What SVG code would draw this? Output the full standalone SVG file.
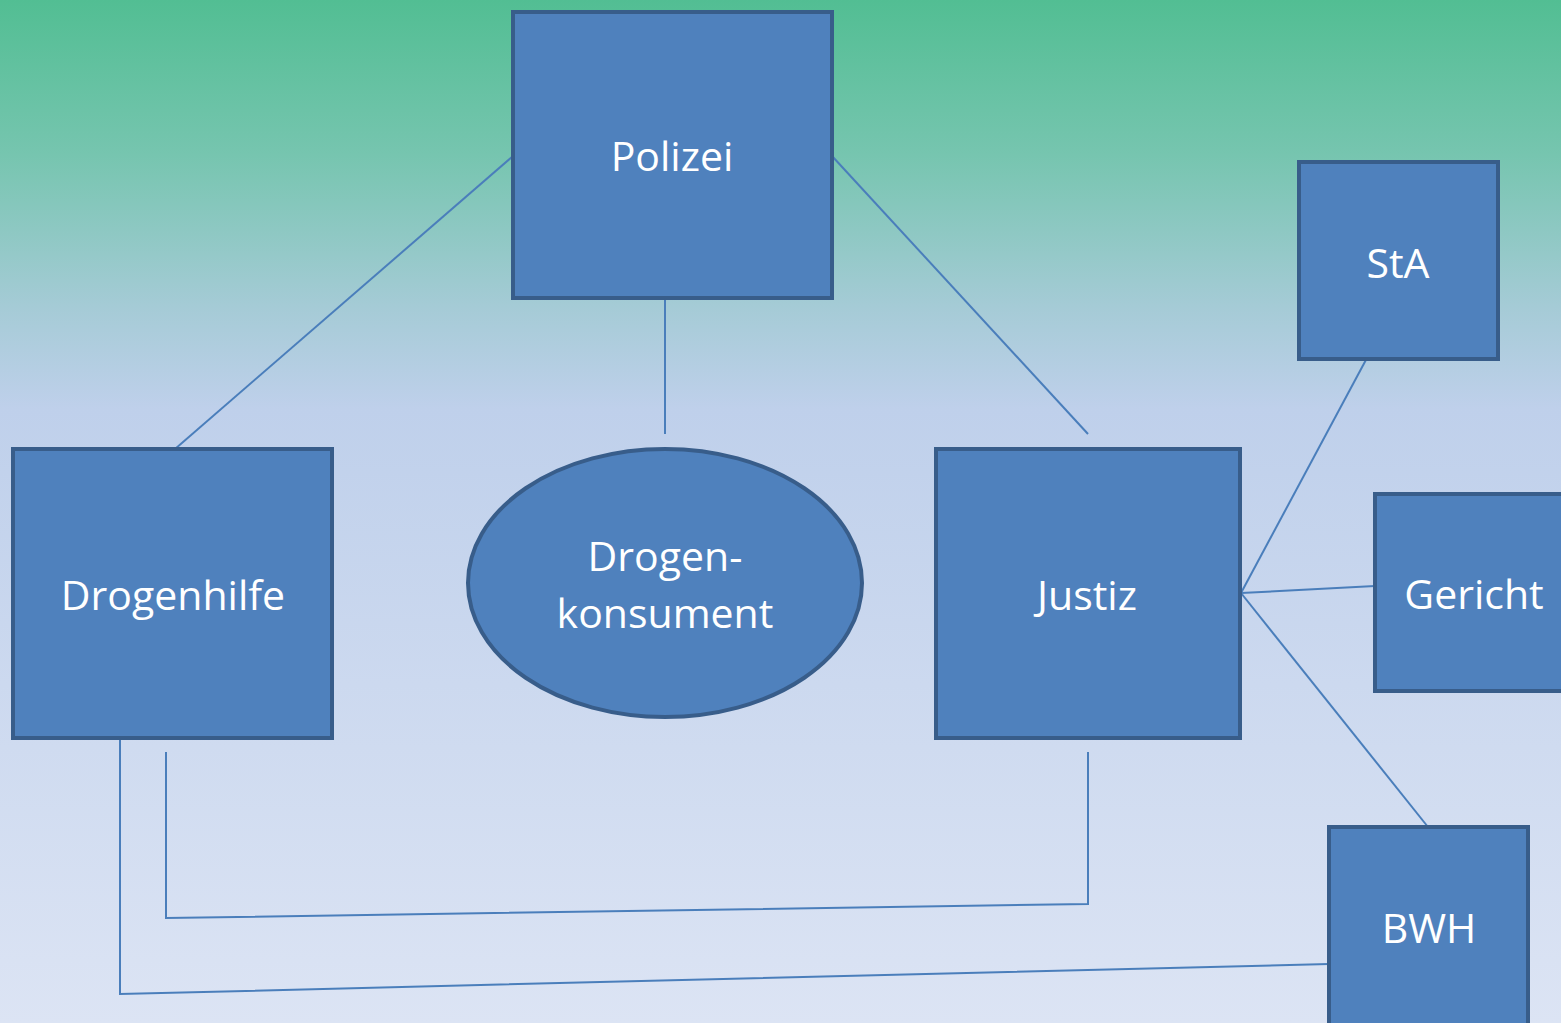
<svg xmlns="http://www.w3.org/2000/svg" width="1561" height="1023" viewBox="0 0 1561 1023">
<defs>
<linearGradient id="bg" x1="0" y1="0" x2="0" y2="1">
<stop offset="0" stop-color="#52BE93"/>
<stop offset="0.15" stop-color="#76C5AF"/>
<stop offset="0.3" stop-color="#A5CBD6"/>
<stop offset="0.4" stop-color="#BFD0EB"/>
<stop offset="1" stop-color="#DCE4F4"/>
</linearGradient>
<style>
.box{fill:#4F81BD;stroke:#385D8A;stroke-width:4}
.lbl{fill:#FFFFFF;font-family:"Open Sans","Noto Sans","Liberation Sans",sans-serif;font-size:41px;text-anchor:middle}
.con line,.con polyline{stroke:#4A7EBB;stroke-width:2;fill:none}
</style>
</defs>
<rect x="0" y="0" width="1561" height="1023" fill="url(#bg)"/>
<g id="connectors" class="con">
<line x1="513" y1="156" x2="175" y2="449"/>
<line x1="832" y1="156" x2="1088" y2="434"/>
<line x1="665" y1="298" x2="665" y2="434"/>
<line x1="1241" y1="593" x2="1375" y2="343"/>
<line x1="1241" y1="593" x2="1375" y2="586"/>
<line x1="1241" y1="593" x2="1428" y2="827"/>
<polyline points="120,738 120,994 1329,964"/>
<polyline points="166,752 166,918 1088,904 1088,752"/>
</g>
<g id="polizei"><rect class="box" x="513" y="12" width="319" height="286"/><text class="lbl" x="672" y="171">Polizei</text></g>
<g id="sta"><rect class="box" x="1299" y="162" width="199" height="197"/><text class="lbl" x="1398" y="278">StA</text></g>
<g id="gericht"><rect class="box" x="1375" y="494" width="200" height="197"/><text class="lbl" x="1474" y="609">Gericht</text></g>
<g id="justiz"><rect class="box" x="936" y="449" width="304" height="289"/><text class="lbl" x="1087" y="610">Justiz</text></g>
<g id="bwh"><rect class="box" x="1329" y="827" width="199" height="210"/><text class="lbl" x="1429" y="943">BWH</text></g>
<g id="drogenhilfe"><rect class="box" x="13" y="449" width="319" height="289"/><text class="lbl" x="173" y="610">Drogenhilfe</text></g>
<g id="drogenkonsument"><ellipse class="box" cx="665" cy="583" rx="197" ry="134"/><text class="lbl" x="665" y="571">Drogen-</text><text class="lbl" x="665" y="628">konsument</text></g>
</svg>
